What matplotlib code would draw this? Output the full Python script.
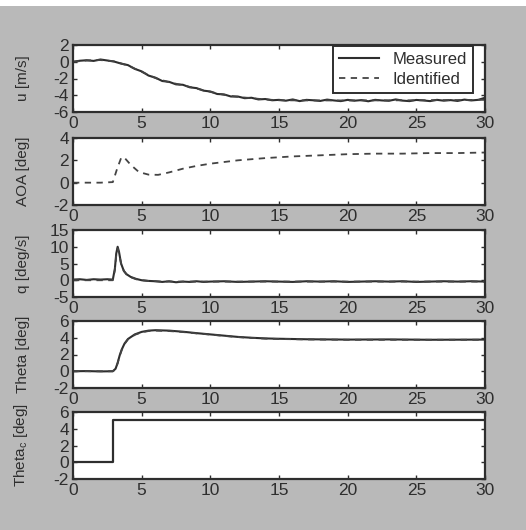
import matplotlib
matplotlib.use("Agg")
import matplotlib.pyplot as plt
from matplotlib.patches import Rectangle

# ---- time grids ----
t_half = [i * 0.5 for i in range(61)]

# forward speed u [m/s], measured (0.5 s samples)
u_meas = [0.00, 0.12, 0.18, 0.10, 0.27, 0.15, 0.02, -0.22, -0.40, -0.85,
          -1.15, -1.65, -1.90, -2.30, -2.40, -2.70, -2.75, -3.05, -3.15, -3.45,
          -3.55, -3.85, -3.90, -4.15, -4.15, -4.35, -4.30, -4.50, -4.45, -4.60,
          -4.55, -4.65, -4.50, -4.70, -4.55, -4.60, -4.68, -4.52, -4.62, -4.70,
          -4.55, -4.65, -4.58, -4.72, -4.55, -4.62, -4.66, -4.50, -4.64, -4.70,
          -4.56, -4.62, -4.70, -4.55, -4.65, -4.58, -4.68, -4.52, -4.62, -4.55,
          -4.30]
t_u_id = [0, 1, 2, 3, 4, 5, 6, 7, 8, 9, 10, 11, 12, 13, 14, 15, 17, 20, 25, 30]
u_id = [0.0, 0.15, 0.2, 0.05, -0.45, -1.2, -1.95, -2.45, -2.8, -3.2,
        -3.6, -3.95, -4.2, -4.35, -4.5, -4.6, -4.62, -4.62, -4.6, -4.55]

# angle of attack [deg], identified
t_aoa = [0, 1, 2, 2.9, 3.2, 3.5, 3.7, 4.2, 4.8, 5.5, 6.2, 7, 8, 9, 10,
         12, 14, 16, 18, 20, 22, 24, 26, 28, 30]
aoa_id = [0.0, 0.0, 0.0, 0.05, 1.2, 2.2, 2.3, 1.6, 0.95, 0.72, 0.7, 0.92,
          1.25, 1.5, 1.7, 2.0, 2.2, 2.35, 2.45, 2.55, 2.6, 2.6, 2.65, 2.65, 2.7]

# pitch rate q [deg/s], measured
t_q = [0, 0.5, 1, 1.5, 2, 2.5, 2.9, 3.05, 3.15, 3.25, 3.35, 3.5, 3.7, 3.9,
       4.2, 4.6, 5, 5.5, 6, 6.5, 7, 7.5, 8, 8.5, 9, 9.5, 10, 11, 12, 13, 14,
       15, 16, 17, 18, 19, 20, 21, 22, 23, 24, 25, 26, 27, 28, 29, 30]
q_meas = [0.2, 0.3, 0.1, 0.3, 0.2, 0.3, 0.2, 3.5, 8.0, 10.0, 8.5, 5.0, 2.8,
          1.8, 1.0, 0.4, 0.0, -0.2, -0.3, -0.5, -0.3, -0.6, -0.4, -0.5, -0.3,
          -0.5, -0.4, -0.3, -0.5, -0.4, -0.3, -0.4, -0.5, -0.3, -0.4, -0.3,
          -0.5, -0.4, -0.3, -0.4, -0.3, -0.5, -0.4, -0.3, -0.4, -0.3, -0.4]
q_id = [0.0, 0.0, 0.0, 0.0, 0.0, 0.0, 0.0, 3.0, 7.5, 9.5, 8.0, 5.0, 2.8,
        1.7, 0.9, 0.3, 0.0, -0.2, -0.3, -0.4, -0.4, -0.4, -0.4, -0.4, -0.4,
        -0.4, -0.4, -0.4, -0.4, -0.4, -0.4, -0.4, -0.4, -0.4, -0.4, -0.4,
        -0.4, -0.4, -0.4, -0.4, -0.4, -0.4, -0.4, -0.4, -0.4, -0.4, -0.4]

# pitch angle Theta [deg]
t_th = [0, 1, 2, 2.9, 3.1, 3.25, 3.4, 3.55, 3.75, 4, 4.5, 5, 5.5, 6, 7, 8,
        9, 10, 11, 12, 13, 14, 15, 17, 20, 23, 26, 30]
th_meas = [0.0, 0.02, -0.02, 0.0, 0.3, 1.0, 1.9, 2.6, 3.3, 3.85, 4.4, 4.7,
           4.85, 4.9, 4.85, 4.72, 4.55, 4.4, 4.25, 4.1, 4.0, 3.92, 3.88,
           3.82, 3.78, 3.8, 3.76, 3.78]
th_id = [0.0, 0.0, 0.0, 0.0, 0.25, 0.95, 1.85, 2.55, 3.25, 3.8, 4.35, 4.65,
         4.8, 4.85, 4.8, 4.68, 4.52, 4.38, 4.22, 4.08, 3.98, 3.9, 3.85,
         3.8, 3.76, 3.76, 3.76, 3.76]

# commanded pitch Theta_c [deg]
t_cmd = [0, 2.9, 2.9, 30]
th_cmd = [0, 0, 5, 5]

x_ticks = [0, 5, 10, 15, 20, 25, 30]
ylims = [(-6, 2), (-2, 4), (-5, 15), (-2, 6), (-2, 6)]
y_ticks = [[-6, -4, -2, 0, 2], [-2, 0, 2, 4], [-5, 0, 5, 10, 15],
           [-2, 0, 2, 4, 6], [-2, 0, 2, 4, 6]]
y_labels = ["u [m/s]", "AOA [deg]", "q [deg/s]", "Theta [deg]",
            r"Theta$_\mathregular{c}$ [deg]"]

INK = "#2e2e2e"
plt.rcParams["font.family"] = ["Liberation Sans", "DejaVu Sans"]
plt.rcParams["font.size"] = 12
plt.rcParams["axes.unicode_minus"] = False

W, H = 526, 530
fig = plt.figure(figsize=(W / 100, H / 100), dpi=100, facecolor="#b9b9b9")
fig.patches.append(Rectangle((0, 1 - 6 / H), 1, 6 / H, transform=fig.transFigure,
                             facecolor="white", edgecolor="none", zorder=-1))

left, width, height = 73 / W, 412 / W, 67 / H
bottoms_px = [112, 205, 297, 388, 479]
axes = [fig.add_axes([left, 1 - b / H, width, height]) for b in bottoms_px]

dash = (0, (3.5, 3))
meas_kw = dict(color=INK, lw=1.5, solid_joinstyle="round")
id_kw = dict(color="#444444", lw=1.3, linestyle=dash)

ax = axes[0]
l1, = ax.plot(t_half, u_meas, **meas_kw)
l2, = ax.plot(t_u_id, u_id, **id_kw)
axes[1].plot(t_aoa, aoa_id, **id_kw)
axes[2].plot(t_q, q_meas, **meas_kw)
axes[2].plot(t_q, q_id, **id_kw)
axes[3].plot(t_th, th_meas, **meas_kw)
axes[3].plot(t_th, th_id, **id_kw)
axes[4].plot(t_cmd, th_cmd, color=INK, lw=1.6)

for ax, yl, yt, lab in zip(axes, ylims, y_ticks, y_labels):
    ax.set_xlim(0, 30)
    ax.set_ylim(*yl)
    ax.set_xticks(x_ticks)
    ax.set_yticks(yt)
    ax.tick_params(direction="in", top=True, right=True, length=3,
                   width=1.0, colors=INK, labelsize=12.5, pad=3)
    for s in ax.spines.values():
        s.set_color(INK)
        s.set_linewidth(1.6)
    ax.set_ylabel(lab, fontsize=11, color=INK)
    ax.yaxis.set_label_coords(-0.105, 0.5)
    ax.set_facecolor("white")

leg = fig.legend([l1, l2], ["Measured", "Identified"], loc="upper right",
                 bbox_to_anchor=(481 / W, 1 - 38 / H), fontsize=12,
                 fancybox=False, framealpha=1, edgecolor=INK,
                 handlelength=2.4, borderpad=0.35, labelspacing=0.3)
leg.get_frame().set_linewidth(1.4)
for txt in leg.get_texts():
    txt.set_color(INK)

fig.savefig("out.png", dpi=100, facecolor=fig.get_facecolor())
